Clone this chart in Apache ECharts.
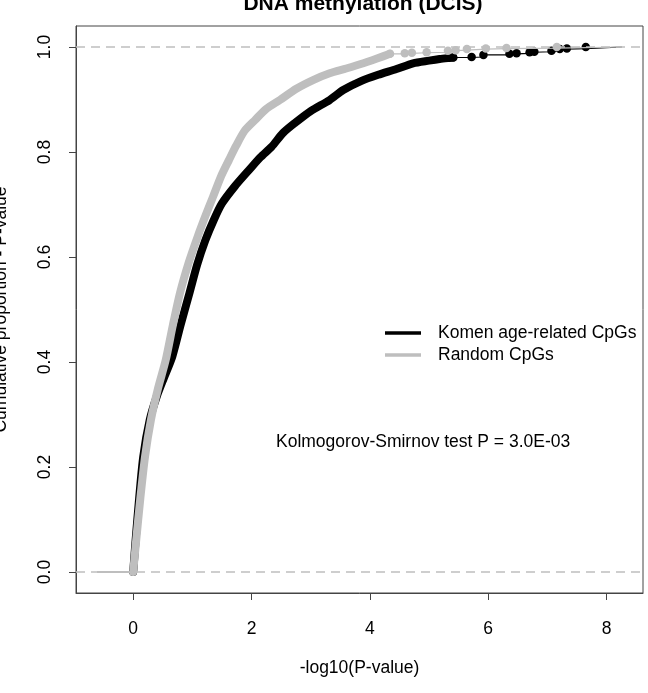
<!DOCTYPE html>
<html>
<head>
<meta charset="utf-8">
<script src="https://cdn.jsdelivr.net/npm/echarts@6/dist/echarts.min.js"></script>
<style>
  html, body { margin: 0; padding: 0; background: #fff; }
  #chart { width: 648px; height: 693px; }
</style>
</head>
<body>
<div id="chart"></div>
<script>
// ECDF of -log10(P) for the two CpG sets
// dense part of the curve
const komenX = [0, 0.04, 0.1, 0.17, 0.28, 0.4, 0.52, 0.66, 0.8, 0.95, 1.08, 1.22, 1.36, 1.5, 1.72, 1.96, 2.15, 2.34, 2.53, 2.73, 3.0, 3.32, 3.55, 3.85, 4.14, 4.45, 4.73, 5.0, 5.18, 5.41];
const komenY = [0, 0.06, 0.14, 0.22, 0.29, 0.335, 0.37, 0.41, 0.47, 0.531, 0.585, 0.632, 0.67, 0.702, 0.735, 0.766, 0.79, 0.81, 0.836, 0.855, 0.878, 0.899, 0.918, 0.935, 0.947, 0.958, 0.969, 0.974, 0.977, 0.98];
const randomX = [0, 0.05, 0.12, 0.2, 0.3, 0.42, 0.55, 0.67, 0.79, 0.94, 1.09, 1.22, 1.35, 1.49, 1.62, 1.74, 1.88, 2.06, 2.25, 2.48, 2.75, 3.04, 3.32, 3.6, 3.89, 4.12, 4.34];
const randomY = [0, 0.06, 0.14, 0.22, 0.29, 0.35, 0.404, 0.47, 0.531, 0.59, 0.639, 0.678, 0.715, 0.755, 0.785, 0.812, 0.84, 0.861, 0.882, 0.899, 0.92, 0.937, 0.95, 0.959, 0.969, 0.978, 0.987];
// sparse tail, single points
const komenTailX = [5.41, 5.72, 5.92, 6.36, 6.48, 6.70, 6.78, 7.07, 7.21, 7.33, 7.65];
const komenTailY = [0.98, 0.981, 0.985, 0.987, 0.988, 0.990, 0.991, 0.993, 0.996, 0.997, 1.0];
const randomTailX = [4.34, 4.59, 4.71, 4.96, 5.32, 5.45, 5.64, 5.96, 6.31, 7.16];
const randomTailY = [0.987, 0.988, 0.989, 0.990, 0.993, 0.994, 0.996, 0.997, 0.998, 1.0];
// horizontal rays of the step function
const rayStart = -0.612;
const rayEnd = 8.262;

const xTicks = [0, 2, 4, 6, 8];
const yTicks = [0, 0.2, 0.4, 0.6, 0.8, 1.0];

const FONT = '"Liberation Sans", Arial, sans-serif';
const BLACK = '#000000';
const GREY = '#bebebe';
const KOMEN = 'Komen age-related CpGs';
const RANDOM = 'Random CpGs';

const zip = (xs, ys) => xs.map((x, i) => [x, ys[i]]);

const denseSeries = (name, xs, ys, color, z) => ({
  name: name,
  type: 'line',
  z: z,
  showSymbol: false,
  symbol: 'none',
  smooth: 0.25,
  lineStyle: { color: color, width: 8, cap: 'round', join: 'round' },
  itemStyle: { color: color },
  data: zip(xs, ys),
});

const tailSeries = (name, xs, ys, color, z) => {
  const data = zip(xs, ys);
  data.push({ value: [rayEnd, 1], symbol: 'none' });
  return {
    name: name,
    type: 'line',
    z: z,
    step: 'end',
    symbol: 'circle',
    symbolSize: 8.5,
    showAllSymbol: true,
    lineStyle: { color: color, width: 1.2 },
    itemStyle: { color: color },
    data: data,
  };
};

const rayLeft = (name, color, z, extra) => Object.assign({
  name: name,
  type: 'line',
  z: z,
  symbol: 'none',
  lineStyle: { color: color, width: 2 },
  data: [[rayStart, 0], [0, 0]],
}, extra || {});

const mChart = echarts.init(document.getElementById('chart'));

const option = {
  animation: false,
  backgroundColor: '#fff',
  textStyle: { fontFamily: FONT },
  title: {
    text: 'DNA methylation (DCIS)',
    left: 358,
    top: -11,
    textAlign: 'center',
    textStyle: { fontFamily: FONT, fontSize: 21, fontWeight: 'bold', color: '#000' },
  },
  grid: {
    left: 76, right: 5, top: 26, bottom: 100,
    containLabel: false,
    outerBoundsMode: 'none',
    show: true, borderColor: '#444', borderWidth: 1,
  },
  legend: {
    orient: 'vertical',
    left: 385,
    top: 324,
    padding: 0,
    icon: 'rect',
    itemWidth: 36,
    itemHeight: 3.5,
    itemGap: 4,
    selectedMode: false,
    textStyle: { fontFamily: FONT, fontSize: 17.5, color: '#000', padding: [0, 0, 0, 12] },
    data: [
      { name: KOMEN, itemStyle: { color: BLACK } },
      { name: RANDOM, itemStyle: { color: GREY } },
    ],
  },
  xAxis: {
    type: 'value',
    min: -0.967,
    max: 8.617,
    name: '-log10(P-value)',
    nameLocation: 'middle',
    nameGap: 66,
    nameTextStyle: { fontFamily: FONT, fontSize: 17.5, color: '#000' },
    axisLine: { show: true, onZero: false, lineStyle: { color: '#444' } },
    axisTick: { show: true, length: 7, customValues: xTicks, lineStyle: { color: '#444' } },
    axisLabel: {
      customValues: xTicks, margin: 27,
      fontFamily: FONT, fontSize: 17.5, color: '#000',
    },
    splitLine: { show: false },
  },
  yAxis: {
    type: 'value',
    min: -0.04,
    max: 1.04,
    name: 'Cumulative proportion - P-value',
    nameLocation: 'middle',
    nameRotate: 90,
    nameGap: 66,
    nameTextStyle: { fontFamily: FONT, fontSize: 17.5, color: '#000' },
    axisLine: { show: true, onZero: false, lineStyle: { color: '#444' } },
    axisTick: { show: true, length: 7, customValues: yTicks, lineStyle: { color: '#444' } },
    axisLabel: {
      customValues: yTicks, margin: 22, rotate: 90,
      fontFamily: FONT, fontSize: 17.5, color: '#000',
      formatter: (v) => v.toFixed(1),
    },
    splitLine: { show: false },
  },
  graphic: [{
    type: 'text',
    left: 276,
    top: 433,
    style: {
      text: 'Kolmogorov-Smirnov test P = 3.0E-03',
      font: '17.5px ' + FONT,
      fill: '#000',
    },
  }],
  series: [
    rayLeft(KOMEN, BLACK, 1, {
      markLine: {
        silent: true,
        symbol: ['none', 'none'],
        label: { show: false },
        lineStyle: { color: GREY, type: [9, 6], width: 1.5 },
        data: [{ yAxis: 0 }, { yAxis: 1 }],
      },
    }),
    denseSeries(KOMEN, komenX, komenY, BLACK, 2),
    tailSeries(KOMEN, komenTailX, komenTailY, BLACK, 2),
    rayLeft(RANDOM, GREY, 3),
    denseSeries(RANDOM, randomX, randomY, GREY, 3),
    tailSeries(RANDOM, randomTailX, randomTailY, GREY, 3),
  ],
};

mChart.setOption(option);
</script>
</body>
</html>
